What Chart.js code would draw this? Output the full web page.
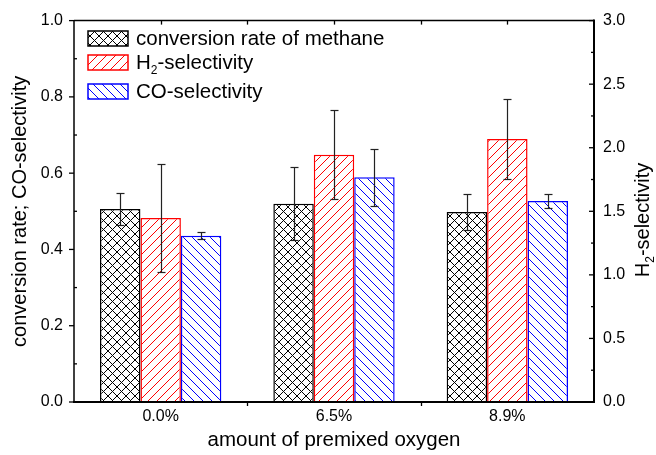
<!DOCTYPE html>
<html>
<head>
<meta charset="utf-8">
<script src="https://cdn.jsdelivr.net/npm/chart.js@4.4.0/dist/chart.umd.min.js"></script>
<style>
  html, body { margin: 0; padding: 0; background: #fff; }
  #wrap { width: 656px; height: 455px; }
</style>
</head>
<body>
<div id="wrap"><canvas id="chart" width="656" height="455"></canvas></div>
<script>
const categories = ["0.0%", "6.5%", "8.9%"];
const conversionRate = [0.506, 0.520, 0.498];
const conversionErr = [0.043, 0.095, 0.048];
const h2Selectivity = [1.447, 1.945, 2.068];
const h2Err = [0.424, 0.350, 0.312];
const coSelectivity = [0.436, 0.589, 0.527];
const coErr = [0.009, 0.075, 0.018];
const leftTicks = [0, 0.2, 0.4, 0.6, 0.8, 1.0];
const leftMinor = [0.1, 0.3, 0.5, 0.7, 0.9];
const rightTicks = [0, 0.5, 1.0, 1.5, 2.0, 2.5, 3.0];
const rightMinor = [0.25, 0.75, 1.25, 1.75, 2.25, 2.75];

const FONT = "'Liberation Sans', Arial, sans-serif";
const TITLE_SIZE = 20;
const LEGEND_SIZE = 20.5;
const TICK_SIZE = 16;

function hatch(color, kind) {
    const s = 9;
    const c = document.createElement("canvas");
    c.width = s;
    c.height = s;
    const g = c.getContext("2d");
    g.fillStyle = "#fff";
    g.fillRect(0, 0, s, s);
    g.strokeStyle = color;
    g.lineWidth = 1;
    const line = (x0, y0, x1, y1) => {
        g.beginPath();
        g.moveTo(x0, y0);
        g.lineTo(x1, y1);
        g.stroke();
    };
    [-s, 0, s].forEach((o) => {
        if (kind === "fwd" || kind === "cross") line(o, s, o + s, 0);
        if (kind === "back" || kind === "cross") line(o, 0, o + s, s);
    });
    return g.createPattern(c, "repeat");
}

const errorsByDataset = [conversionErr, h2Err, coErr];

function drawTick(ctx, x0, y0, x1, y1) {
    ctx.beginPath();
    ctx.moveTo(x0, y0);
    ctx.lineTo(x1, y1);
    ctx.stroke();
}

// text with a subscript part, e.g. H + 2 + -selectivity
function subText(ctx, parts, x, y, size, measureOnly) {
    let tx = x;
    parts.forEach((p, i) => {
        const sub = i === 1;
        ctx.font = `${sub ? 12 : size}px ${FONT}`;
        if (!measureOnly) ctx.fillText(p, tx, sub ? y + 5 : y);
        tx += ctx.measureText(p).width;
    });
    return tx - x;
}

const decor = {
    id: "decor",
    afterDatasetsDraw(chart) {
        const ctx = chart.ctx;
        const area = chart.chartArea;
        const y = chart.scales.y;
        const y1 = chart.scales.y1;
        const x = chart.scales.x;

        // error bars
        ctx.save();
        ctx.strokeStyle = "#222";
        ctx.lineWidth = 1.2;
        chart.data.datasets.forEach((ds, i) => {
            const scale = chart.scales[ds.yAxisID];
            const errs = errorsByDataset[i];
            chart.getDatasetMeta(i).data.forEach((bar, j) => {
                const v = ds.data[j];
                const top = Math.round(scale.getPixelForValue(v + errs[j])) + 0.5;
                const bot = Math.round(scale.getPixelForValue(v - errs[j])) + 0.5;
                const bx = Math.round(bar.x) + 0.5;
                drawTick(ctx, bx, top, bx, bot);
                drawTick(ctx, bx - 4, top, bx + 4, top);
                drawTick(ctx, bx - 4, bot, bx + 4, bot);
            });
        });
        ctx.restore();

        // frame
        ctx.save();
        ctx.strokeStyle = "#000";
        ctx.lineWidth = 1.5;
        drawTick(ctx, area.left, area.top, area.right, area.top);
        drawTick(ctx, area.left, area.top, area.left, area.bottom);
        ctx.lineWidth = 2;
        drawTick(ctx, area.left - 1, area.bottom, area.right + 1, area.bottom);
        drawTick(ctx, area.right, area.top - 1, area.right, area.bottom);

        // left ticks: major out, minor in
        ctx.lineWidth = 1.3;
        leftTicks.forEach((v) => {
            const py = y.getPixelForValue(v);
            drawTick(ctx, area.left - 5, py, area.left, py);
        });
        leftMinor.forEach((v) => {
            const py = y.getPixelForValue(v);
            drawTick(ctx, area.left, py, area.left + 3, py);
        });
        // right ticks: inward
        rightTicks.forEach((v) => {
            const py = y1.getPixelForValue(v);
            drawTick(ctx, area.right - 5, py, area.right, py);
        });
        rightMinor.forEach((v) => {
            const py = y1.getPixelForValue(v);
            drawTick(ctx, area.right - 3, py, area.right, py);
        });
        // category boundaries on top and bottom
        const step = (area.right - area.left) / categories.length;
        for (let k = 1; k < categories.length; k++) {
            const px = Math.round(area.left + step * k) + 0.5;
            drawTick(ctx, px, area.top, px, area.top + 4);
            drawTick(ctx, px, area.bottom, px, area.bottom + 4);
        }
        categories.forEach((c, k) => {
            const px = Math.round(x.getPixelForValue(k)) + 0.5;
            drawTick(ctx, px, area.top, px, area.top + 4);
        });
        ctx.restore();

        // legend
        ctx.save();
        const rows = [
            { y: 31, text: ["conversion rate of methane"] },
            { y: 55, text: ["H", "2", "-selectivity"] },
            { y: 84, text: ["CO-selectivity"] },
        ];
        ctx.textBaseline = "alphabetic";
        ctx.textAlign = "left";
        chart.data.datasets.forEach((ds, i) => {
            const r = rows[i];
            ctx.fillStyle = ds.backgroundColor;
            ctx.fillRect(88, r.y, 40, 15);
            ctx.strokeStyle = ds.borderColor;
            ctx.lineWidth = 1.5;
            ctx.strokeRect(88, r.y, 40, 15);
            ctx.fillStyle = "#000";
            subText(ctx, r.text, 136, r.y + 14, LEGEND_SIZE);
        });

        // right axis title
        ctx.translate(649, 220);
        ctx.rotate(-Math.PI / 2);
        const parts = ["H", "2", "-selectivity"];
        const w = subText(ctx, parts, 0, 0, TITLE_SIZE, true);
        subText(ctx, parts, -w / 2, 0, TITLE_SIZE);
        ctx.restore();
    },
};

document.addEventListener("DOMContentLoaded", () => {
    const ctx = document.getElementById("chart");
    const tickFont = { family: FONT, size: TICK_SIZE };
    new Chart(ctx, {
        type: "bar",
        data: {
            labels: categories,
            datasets: [
                {
                    label: "conversion rate of methane",
                    data: conversionRate,
                    backgroundColor: hatch("#000", "cross"),
                    borderColor: "#000",
                    borderWidth: 1.5,
                    yAxisID: "y",
                },
                {
                    label: "H2-selectivity",
                    data: h2Selectivity,
                    backgroundColor: hatch("#ff0000", "fwd"),
                    borderColor: "#ff0000",
                    borderWidth: 1.5,
                    yAxisID: "y1",
                },
                {
                    label: "CO-selectivity",
                    data: coSelectivity,
                    backgroundColor: hatch("#0000ff", "back"),
                    borderColor: "#0000ff",
                    borderWidth: 1.5,
                    yAxisID: "y",
                },
            ],
        },
        options: {
            responsive: false,
            animation: false,
            devicePixelRatio: 1,
            layout: { padding: { top: 20, right: 0, bottom: 0, left: 0 } },
            datasets: { bar: { categoryPercentage: 0.7, barPercentage: 1.0 } },
            plugins: { legend: { display: false }, tooltip: { enabled: false } },
            scales: {
                x: {
                    grid: { display: false, drawTicks: false, tickLength: 0 },
                    border: { display: false },
                    ticks: { color: "#000", font: tickFont, padding: 5 },
                    title: {
                        display: true,
                        text: "amount of premixed oxygen",
                        color: "#000",
                        font: { family: FONT, size: LEGEND_SIZE },
                        padding: { top: 0, bottom: 2 },
                    },
                    afterFit(s) { s.height = 53; },
                },
                y: {
                    position: "left",
                    min: 0,
                    max: 1,
                    grid: { display: false, drawTicks: false, tickLength: 0 },
                    border: { display: false },
                    afterBuildTicks(s) { s.ticks = leftTicks.map((v) => ({ value: v })); },
                    ticks: {
                        color: "#000",
                        font: tickFont,
                        padding: 11,
                        callback: (v) => Number(v).toFixed(1),
                    },
                    title: {
                        display: true,
                        text: "conversion rate; CO-selectivity",
                        color: "#000",
                        font: { family: FONT, size: TITLE_SIZE },
                        padding: { top: 8, bottom: 0 },
                    },
                    afterFit(s) { s.width = 74; },
                },
                y1: {
                    position: "right",
                    min: 0,
                    max: 3,
                    grid: { display: false, drawTicks: false, tickLength: 0 },
                    border: { display: false },
                    afterBuildTicks(s) { s.ticks = rightTicks.map((v) => ({ value: v })); },
                    ticks: {
                        color: "#000",
                        font: tickFont,
                        padding: 9,
                        callback: (v) => Number(v).toFixed(1),
                    },
                    afterFit(s) { s.width = 62; },
                },
            },
        },
        plugins: [decor],
    });
});
</script>
</body>
</html>
